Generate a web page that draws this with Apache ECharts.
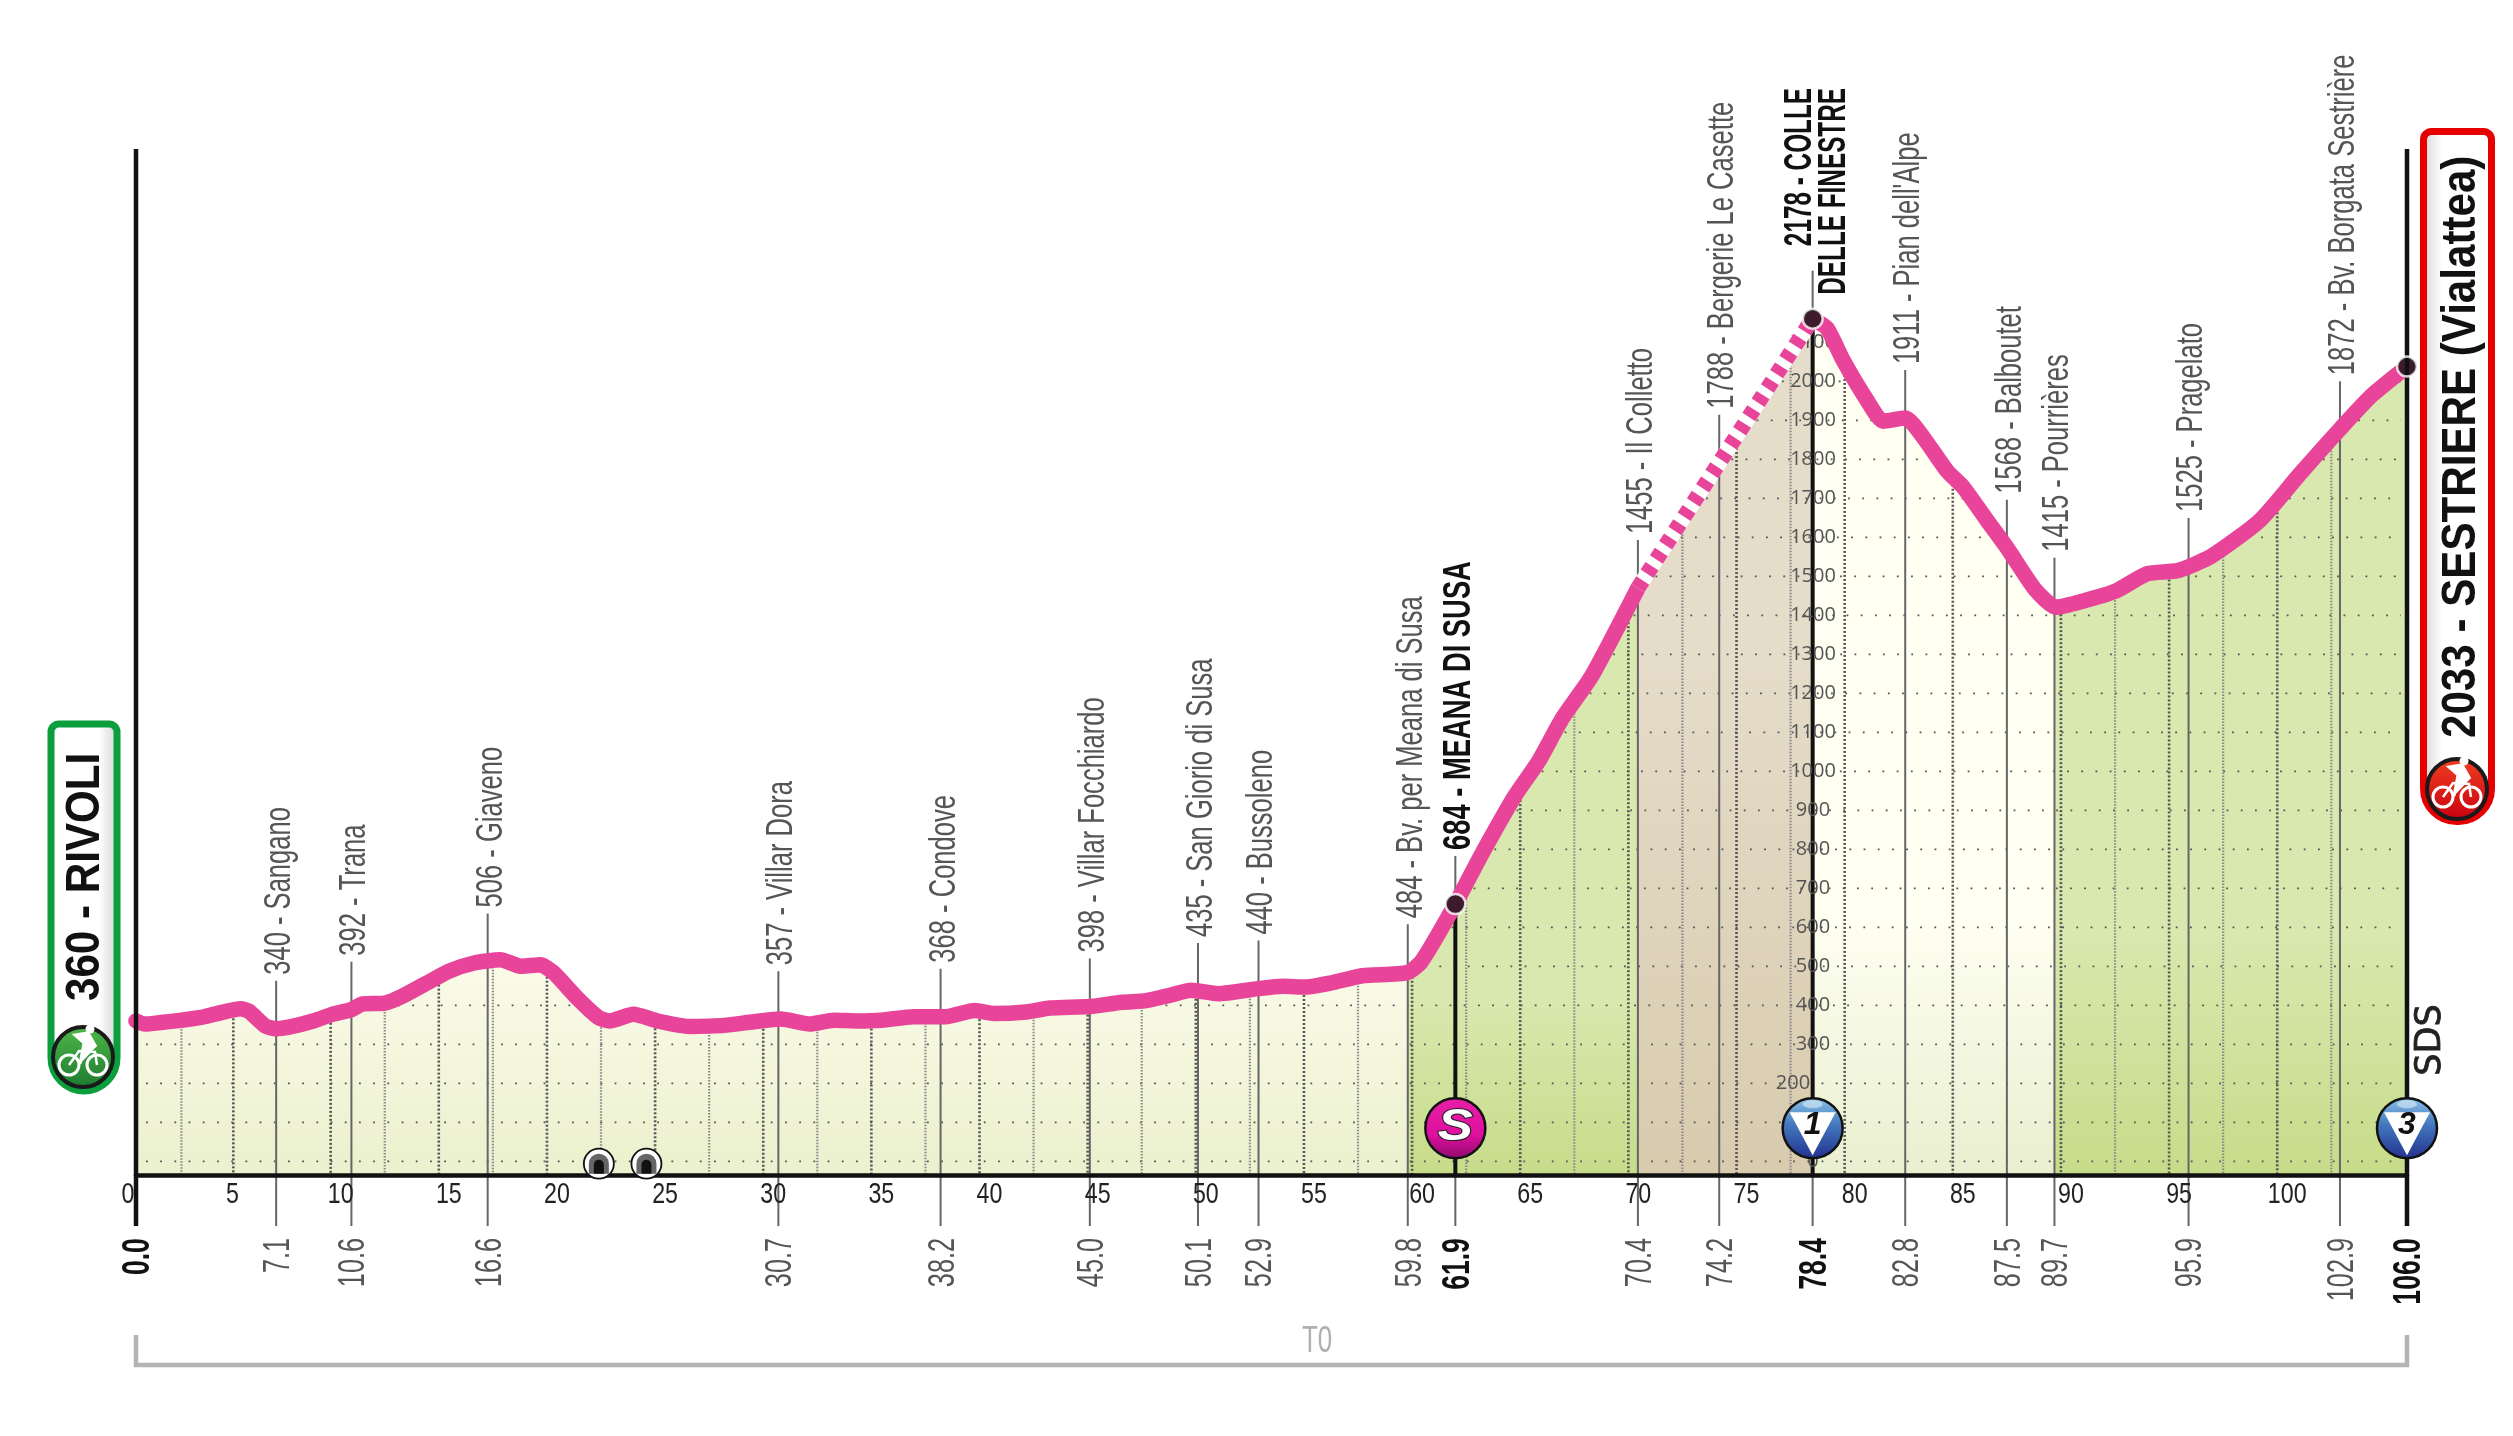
<!DOCTYPE html>
<html><head><meta charset="utf-8">
<style>html,body{margin:0;padding:0;background:#fff}#c{width:2513px;height:1436px}</style>
<script src="https://cdn.jsdelivr.net/npm/echarts@6/dist/echarts.min.js"></script>
</head><body><div id="c"></div>
<script>
// Road profile: position along the drawn km axis, metres
const profileKm = [1,1.41,2.15,3.11,4,4.74,5.85,6.22,6.96,7.48,8.07,9.19,10.07,10.96,11.48,12.52,13.26,14.37,15.48,16.59,17.85,18.81,19.7,20.3,21.41,22.37,22.89,24,25.11,26.59,28.07,29.56,30.81,32.15,33.26,34.37,35.48,36.96,38.44,39.78,40.67,42.15,43.26,45.11,46.59,47.7,48.81,49.78,51.04,52.89,54,55.11,56.22,57.7,59.78,60.44,62,63.26,64.74,65.85,66.96,68.3,70.44,78.52,79.19,79.93,81.04,81.78,82.81,83.63,84.74,85.48,86.59,87.56,88.81,89.78,91.04,92.52,94,95.41,96.96,99.19,101.04,102.89,104.37,106];
const profileM = [360,352,356,362,369,379,391,385,348,340,344,360,377,389,404,406,422,455,488,508,517,500,504,484,418,369,360,377,360,346,348,358,365,352,362,360,362,371,371,387,379,383,393,397,408,412,426,439,430,443,449,447,457,476,484,513,660,792,936,1026,1137,1244,1470,2161,2136,2054,1951,1898,1906,1857,1770,1729,1643,1569,1466,1421,1437,1462,1507,1515,1552,1643,1762,1877,1964,2038];
// Labelled points
const tickAt = [1,7.48,10.96,17.26,30.7,38.2,45.1,50.1,52.9,59.8,62,70.44,74.2,78.52,82.8,87.5,89.7,95.9,102.9,106];
const tickKmText = ['0.0','7.1','10.6','16.6','30.7','38.2','45.0','50.1','52.9','59.8','61.9','70.4','74.2','78.4','82.8','87.5','89.7','95.9','102.9','106.0'];
const tickName = ['','340 - Sangano','392 - Trana','506 - Giaveno','357 - Villar Dora','368 - Condove','398 - Villar Focchiardo','435 - San Giorio di Susa','440 - Bussoleno','484 - Bv. per Meana di Susa','684 - MEANA DI SUSA','1455 - Il Colletto','1788 - Bergerie Le Casette','2178 - COLLE\nDELLE FINESTRE','1911 - Pian dell\'Alpe','1568 - Balboutet','1415 - Pourrières','1525 - Pragelato','1872 - Bv. Borgata Sestrière',''];
const strongTicks = ['0.0','61.9','78.4','106.0'];
const kmLabels = [5,10,15,20,25,30,35,40,45,50,55,60,65,70,75,80,85,90,95,100];
const elevationLabels = [0,100,200,300,400,500,600,700,800,900,1000,1100,1200,1300,1400,1500,1600,1700,1800,1900,2000,2100];
const gridLevels = [0,100,200,300,400,500,600,700,800,900,1000,1100,1200,1300,1400,1500,1600,1700,1800,1900,2000,2100];
const gridKmMajor = [5.5,10,15,20,25,30,35,40,45,50,55,60,65,70,75,80,85,90,95,100];
const gridKmMinor = [3.1,12.5,17.5,22.5,27.5,32.5,37.5,42.5,47.5,52.5,57.5,62.5,67.5,72.5,77.5,92.5,97.5,102.5];
const zoneEdges = [1,59.8,70.44,78.52,89.7,106];
const zoneTop = ['#fbfbe9','#d9e8ae','#e5dcc9','#fffff2','#d9e8ae'];
const zoneBottom = ['#ebf0cd','#c6dc8a','#d8cbae','#e9efcf','#c6dc8a'];
const zoneHold = [0,0.7,0.4,0.7,0.7];
const tunnels = [[22.4,-6],[24.6,-6]];
const climbIcons = [[62,85,'S'],[78.52,85,'1'],[106,85,'3']];
const summits = [[62,660],[78.52,2161],[106,2038]];
const NARROW = '"Liberation Sans",sans-serif';
const AXIS_BOTTOM = -166, Y_MIN = -35, Y_MAX = 2596, X_MIN = 1, X_MAX = 106;

function elevAt(k){
  for(let i=1;i<profileKm.length;i++){
    if(k<=profileKm[i]){
      const a=profileKm[i-1],b=profileKm[i];
      return profileM[i-1]+(profileM[i]-profileM[i-1])*(k-a)/(b-a);
    }
  }
  return profileM[profileM.length-1];
}
function slice(a,b){
  const out=[[a,elevAt(a)]];
  profileKm.forEach((k,i)=>{ if(k>a&&k<b) out.push([k,profileM[i]]); });
  out.push([b,elevAt(b)]);
  return out;
}
function txt(o){
  const s=Object.assign({fill:'#555',textAlign:o.align||'left',align:o.align||'left',textVerticalAlign:'middle',verticalAlign:'middle',text:o.text,font:o.font},o.style||{});
  return {type:'text',x:o.x,y:o.y,rotation:o.rotation===undefined?Math.PI/2:o.rotation,scaleX:o.sx||1,scaleY:o.sy||1,style:s,z2:o.z2||5,silent:true};
}
function line(x1,y1,x2,y2,stroke,w,dash){
  return {type:'line',shape:{x1,y1,x2,y2},style:{stroke,lineWidth:w,lineDash:dash||null},silent:true};
}

const series=[];
for(let i=0;i<zoneTop.length;i++){
  series.push({type:'line',name:'zone'+i,data:slice(zoneEdges[i],zoneEdges[i+1]),symbol:'none',z:1,silent:true,
    lineStyle:{width:0},
    areaStyle:{opacity:1,origin:'start',color:{type:'linear',x:0,y:0,x2:0,y2:1,colorStops:[{offset:0,color:zoneTop[i]},{offset:zoneHold[i],color:zoneTop[i]},{offset:1,color:zoneBottom[i]}]}}});
}
series.push({type:'custom',name:'levels',z:2,silent:true,clip:false,data:gridLevels.map(v=>[X_MIN,v]),
  renderItem(p,api){
    const L=api.value(1),kids=[];let start=null;
    const n=profileKm.length;
    if(profileM[0]>L) start=profileKm[0];
    for(let i=1;i<n;i++){
      const a=profileM[i-1],b=profileM[i];
      if(a<=L&&b>L) start=profileKm[i-1]+(L-a)/(b-a)*(profileKm[i]-profileKm[i-1]);
      if(a>L&&b<=L){
        const e=profileKm[i-1]+(a-L)/(a-b)*(profileKm[i]-profileKm[i-1]);
        const s=api.coord([start,L]),t=api.coord([e,L]);
        kids.push(line(s[0]+10,s[1],t[0]-6,t[1],'#555',1.8,[1.8,12.4]));start=null;
      }
    }
    if(start!==null){const s=api.coord([start,L]),t=api.coord([X_MAX,L]);kids.push(line(s[0]+10,s[1],t[0]-6,t[1],'#555',1.8,[1.8,12.4]));}
    return {type:'group',children:kids};
  }});
[[gridKmMajor,'#555',2.6,[2,2]],[gridKmMinor,'#8a8a8a',2.2,[1.5,1.5]]].forEach(g=>{
  series.push({type:'custom',name:'kmgrid',z:2,silent:true,data:g[0].map(k=>[k,elevAt(k)]),
    renderItem(p,api){
      const a=api.coord([api.value(0),api.value(1)]),b=api.coord([api.value(0),Y_MIN]);
      return line(a[0],a[1],b[0],b[1],g[1],g[2],g[3]);
    }});
});
const ROAD_W=15.5;
const roadStyle={color:'#e8449a',width:ROAD_W,cap:'round',join:'round'};
const road=(name,d)=>({type:'line',name,data:d,symbol:'none',z:6,smooth:0.2,silent:true,lineStyle:roadStyle});
series.push(road('road1',slice(1,70.44)));
series.push({type:'line',name:'gravelBase',data:slice(70.44,78.52),symbol:'none',z:6,silent:true,lineStyle:{color:'#fff',width:ROAD_W,cap:'butt'}});
series.push({type:'line',name:'gravel',data:slice(70.44,78.52),symbol:'none',z:6,silent:true,lineStyle:{color:'#e8449a',width:ROAD_W,type:[9,8],cap:'butt'}});
series.push(road('road2',slice(78.52,106)));
series.push({type:'custom',name:'ticks',z:5,clip:false,silent:true,data:tickAt.map((k,i)=>[k,elevAt(k),i]),
  renderItem(p,api){
    const i=api.value(2),k=api.value(0);
    const a=api.coord([k,api.value(1)]),b=api.coord([k,AXIS_BOTTOM]),base=api.coord([k,Y_MIN]);
    const kmText=tickKmText[i],strong=strongTicks.includes(kmText),kids=[];
    const name=tickName[i];
    const top=[a[0],a[1]-48];
    if(name){
      kids.push(line(a[0],top[1],b[0],b[1],'#666',2));
      if(strong) kids.push(line(a[0],a[1],base[0],base[1],'#111',4));
      const two=name.includes('\n');
      kids.push(txt({text:name,x:a[0]+(two?5:4),y:two?88:top[1]-6,align:two?'right':'left',
        font:(strong?'bold 38':'36')+'px '+NARROW,sx:two?0.64:(strong?0.72:0.71),
        style:Object.assign({fill:strong?'#111':'#555'},two?{lineHeight:34}:{})}));
    }
    kids.push(txt({text:kmText,x:a[0]+3,y:b[1]+12,align:'right',font:(strong?'bold 38':'36')+'px '+NARROW,sx:0.7,style:{fill:strong?'#111':'#555'}}));
    return {type:'group',children:kids};
  }});
series.push({type:'custom',name:'rails',z:7,clip:false,silent:true,data:[[X_MIN],[X_MAX]],
  renderItem(p,api){
    const x=api.value(0),a=api.coord([x,Y_MAX]),b=api.coord([x,AXIS_BOTTOM]);
    return line(a[0],a[1],b[0],b[1],'#111',4.5);
  }});
// km numbers along the base line
series.push({type:'custom',name:'kmnumbers',z:7,clip:false,silent:true,data:[X_MIN].concat(kmLabels).map((k,i)=>[k,Y_MIN,i===0?0:k]),
  renderItem(p,api){const a=api.coord([api.value(0),api.value(1)]),v=api.value(2);
    return txt({text:String(v),x:a[0]+(v===0?-8:10),y:a[1]+20,rotation:0,align:'center',font:'29px '+NARROW,sx:0.8,style:{fill:'#222'}});}});
series.push({type:'scatter',name:'summits',data:summits,symbol:'circle',symbolSize:20,z:8,silent:true,
  itemStyle:{color:'#111',borderColor:'#fff',borderWidth:2.5}});
series.push({type:'custom',name:'badges',z:9,clip:false,silent:true,data:climbIcons.map(c=>[c[0],c[1],c[2]==='S'?0:1]),
  renderItem(p,api){
    const a=api.coord([api.value(0),api.value(1)]),sprint=api.value(2)===0;
    const label=climbIcons[p.dataIndex][2];
    const cx=a[0],cy=a[1],r=30;
    const kids=[{type:'circle',shape:{cx,cy,r},style:{stroke:'#111',lineWidth:2.5,fill:sprint?
      {type:'linear',x:0,y:0,x2:0,y2:1,colorStops:[{offset:0,color:'#e81fa6'},{offset:.6,color:'#e00fa0'},{offset:1,color:'#8c0a6b'}]}:
      {type:'linear',x:0,y:0,x2:0,y2:1,colorStops:[{offset:0,color:'#8cc4e8'},{offset:.45,color:'#4277bd'},{offset:1,color:'#232f8e'}]}}}];
    if(!sprint){
      kids.push({type:'polygon',shape:{points:[[cx-23,cy-16],[cx+23,cy-16],[cx,cy+27]]},style:{fill:'#fff'}});
      kids.push({type:'ellipse',shape:{cx,cy:cy-24,rx:10,ry:4},style:{fill:'rgba(255,255,255,.45)'}});
      kids.push(txt({text:label,x:cx,y:cy-3,rotation:0,align:'center',font:'italic bold 32px "Liberation Sans"',style:{fill:'#111'}}));
    } else {
      kids.push(txt({text:label,x:cx,y:cy,rotation:0,align:'center',sx:1.2,font:'italic bold 44px "Liberation Sans"',style:{fill:'#fff',stroke:'#222',lineWidth:2}}));
    }
    return {type:'group',children:kids};
  }});
series.push({type:'custom',name:'tunnels',z:9,clip:false,silent:true,data:tunnels,
  renderItem(p,api){
    const a=api.coord([api.value(0),api.value(1)]),cx=a[0],cy=a[1];
    return {type:'group',children:[
      {type:'circle',shape:{cx,cy,r:15},style:{fill:'#fff',stroke:'#111',lineWidth:1.8}},
      {type:'rect',shape:{x:cx-10,y:cy-10,width:20,height:20,r:[10,10,0,0]},style:{fill:'#666'}},
      {type:'rect',shape:{x:cx-5,y:cy-4,width:10,height:14,r:[5,5,0,0]},style:{fill:'#111'}}]};
  }});

function bike(cx,cy){
  const w=(dx)=>({type:'circle',shape:{cx:cx+dx,cy:cy+10,r:10},style:{fill:'none',stroke:'#fff',lineWidth:3},z:31});
  return [w(-14),w(14),
    {type:'polyline',shape:{points:[[cx-14,cy+10],[cx-4,cy-4],[cx+12,cy-3],[cx+14,cy+10]]},style:{fill:'none',stroke:'#fff',lineWidth:2.5},z:31},
    {type:'polyline',shape:{points:[[cx-3,cy+9],[cx+1,cy-12],[cx-8,cy-20],[cx+5,cy-22],[cx+13,cy-8]]},style:{fill:'#fff',stroke:'#fff',lineWidth:3},z:31},
    {type:'circle',shape:{cx:cx+7,cy:cy-26,r:4.5},style:{fill:'#fff'},z:31}];
}
const graphics=[
  {type:'rect',shape:{x:51,y:724,width:66,height:367,r:[8,8,33,33]},z:20,style:{stroke:'#0a9e3c',lineWidth:7,fill:{type:'linear',x:0,y:0,x2:1,y2:0,colorStops:[{offset:0,color:'#fff'},{offset:.7,color:'#fff'},{offset:1,color:'#cfcfd4'}]}}},
  {type:'circle',shape:{cx:83,cy:1057,r:30},z:21,style:{stroke:'#1a1a1a',lineWidth:4,fill:{type:'linear',x:0,y:0,x2:0,y2:1,colorStops:[{offset:0,color:'#4fb848'},{offset:1,color:'#1e7a30'}]}}},
  ...bike(83,1055),
  txt({text:'360 - RIVOLI',x:85,y:1001,rotation:Math.PI/2,font:'bold 49px '+NARROW,style:{fill:'#111'},sx:0.86,z2:1}),
  {type:'rect',shape:{x:2423.5,y:131.5,width:68,height:690,r:[8,8,33,33]},z:20,style:{stroke:'#e60000',lineWidth:7,fill:{type:'linear',x:0,y:0,x2:1,y2:0,colorStops:[{offset:0,color:'#cfcfd4'},{offset:.3,color:'#fff'},{offset:1,color:'#fff'}]}}},
  {type:'circle',shape:{cx:2457,cy:789,r:30},z:21,style:{stroke:'#1a1a1a',lineWidth:4,fill:{type:'linear',x:0,y:0,x2:0,y2:1,colorStops:[{offset:0,color:'#f04020'},{offset:1,color:'#c80010'}]}}},
  ...bike(2457,787),
  txt({text:'2033 - SESTRIERE (Vialattea)',x:2461,y:738,rotation:Math.PI/2,font:'bold 49px '+NARROW,style:{fill:'#111'},sx:0.86,z2:1}),
  txt({text:'SDS',x:2431,y:1040,rotation:Math.PI/2,align:'center',font:'35px "DejaVu Sans"',style:{fill:'#222',stroke:'#222',lineWidth:0.8},z2:1}),
  txt({text:'T0',x:1317,y:1342,rotation:0,align:'center',font:'36px '+NARROW,sx:0.72,style:{fill:'#b0b0b0'},z2:1}),
  {type:'polyline',shape:{points:[[136,1335],[136,1365],[2407,1365],[2407,1335]]},style:{fill:'none',stroke:'#b4b4b4',lineWidth:4.5},z:20}
].map(g=>{ if(g.type==='text'){g.z=30;} return g; });

const chart=echarts.init(document.getElementById('c'));
chart.setOption({
  animation:false,
  backgroundColor:'#fff',
  grid:{left:136,right:106,top:149,bottom:261,containLabel:false},
  xAxis:{type:'value',min:X_MIN,max:X_MAX,z:6,
    axisLine:{show:true,onZero:false,lineStyle:{color:'#111',width:4.5}},
    axisTick:{show:false},splitLine:{show:false},axisLabel:{show:false}},
  yAxis:{type:'value',min:Y_MIN,max:Y_MAX,position:'left',offset:-1677,z:5,
    axisLine:{show:false},axisTick:{show:false},splitLine:{show:false},
    axisLabel:{customValues:elevationLabels,margin:0,align:'center',color:'#555',fontFamily:'"Open Sans",sans-serif',fontSize:20,
      formatter:v=>v===200?'{s|200}':String(v),
      rich:{s:{color:'#555',fontFamily:'"Open Sans",sans-serif',fontSize:20,padding:[0,40,0,0]}}}},
  series,
  graphic:{elements:graphics}
});
</script></body></html>
